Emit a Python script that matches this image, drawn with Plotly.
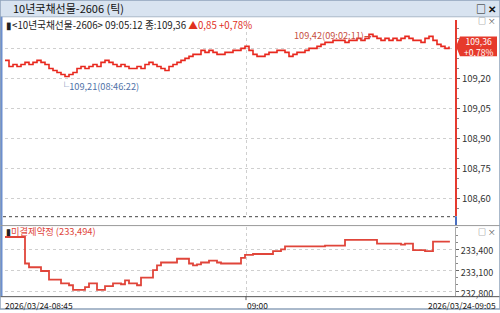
import plotly.graph_objects as go

# ---------------- data (tick chart: x = tick index) ----------------
prices = [
    109.29, 109.26, 109.27, 109.26, 109.27, 109.28, 109.27, 109.28, 109.29, 109.28,
    109.27, 109.25, 109.24, 109.23, 109.22, 109.21, 109.22, 109.23, 109.25, 109.26,
    109.25, 109.26, 109.27, 109.26, 109.28, 109.29, 109.28, 109.27, 109.26, 109.27,
    109.26, 109.25, 109.25, 109.26, 109.25, 109.27, 109.28, 109.27, 109.26, 109.25,
    109.24, 109.26, 109.27, 109.28, 109.29, 109.30, 109.31, 109.32, 109.32, 109.34,
    109.33, 109.34, 109.33, 109.32, 109.32, 109.33, 109.33, 109.34, 109.34, 109.35,
    109.36, 109.34, 109.32, 109.31, 109.31, 109.32, 109.33, 109.33, 109.34, 109.34,
    109.33, 109.31, 109.32, 109.33, 109.33, 109.34, 109.35, 109.35, 109.36, 109.37,
    109.38, 109.38, 109.39, 109.39, 109.39, 109.38, 109.39, 109.39, 109.40, 109.39,
    109.40, 109.42, 109.41, 109.40, 109.39, 109.40, 109.39, 109.40, 109.39, 109.40,
    109.41, 109.40, 109.39, 109.39, 109.38, 109.40, 109.41, 109.39, 109.37, 109.36,
    109.35, 109.36,
]
open_interest = [
    233573, 233573, 233573, 233573, 233573, 233200, 233147, 233147, 233147, 233094,
    233094, 232974, 232974, 232974, 232921, 232921, 232894, 232828, 232828, 232828,
    232868, 232921, 232921, 232828, 232828, 232881, 232881, 232921, 232921, 232908,
    232961, 232921, 232921, 232894, 233001, 233001, 233001, 233107, 233174, 233214,
    233214, 233214, 233214, 233267, 233267, 233267, 233200, 233174, 233187, 233214,
    233214, 233240, 233240, 233214, 233200, 233200, 233200, 233200, 233200, 233280,
    233320, 233320, 233334, 233334, 233334, 233334, 233334, 233373, 233373, 233400,
    233440, 233440, 233440, 233440, 233440, 233440, 233440, 233440, 233440, 233440,
    233453, 233453, 233453, 233453, 233453, 233533, 233533, 233533, 233533, 233533,
    233533, 233533, 233533, 233480, 233480, 233480, 233480, 233480, 233480, 233467,
    233480, 233480, 233387, 233387, 233387, 233373, 233373, 233507, 233507, 233507,
    233507, 233494,
]
ticks = list(range(len(prices)))
nine_oclock_tick = [60.25]
time_labels = ["2026/03/24-08:45", "09:00", "2026/03/24-09:05"]
min_time, max_time = "08:46:22", "09:02:11"
change_text = "▲0,85 +0,78%"
change_pct = "+0,78%"
price_tickvals = [108.60, 108.75, 108.90, 109.05, 109.20, 109.35]
price_ticktext = ["108,60", "108,75", "108,90", "109,05", "109,20", ""]
oi_tickvals = [232800, 233100, 233400]
oi_ticktext = ["232,800", "233,100", "233,400"]

W, H = 500, 313
def px(x): return x / W
def py(y): return 1 - y / H

FONT = "Noto Sans CJK KR, Noto Sans, sans-serif"
RED = "#e8281e"

y_range = [108.5126, 109.493]
y_px_top, y_px_bot = 20, 219
units_per_px = (y_range[1] - y_range[0]) / (y_px_bot - y_px_top)

fig = go.Figure()
fig.add_trace(go.Scatter(x=ticks, y=prices, mode="lines", xaxis="x", yaxis="y",
                         line=dict(color=RED, width=1.6, shape="hv"), hoverinfo="skip"))
fig.add_trace(go.Scatter(x=ticks, y=open_interest, mode="lines", xaxis="x2", yaxis="y2",
                         line=dict(color="#e0453a", width=1.8, shape="hv"), hoverinfo="skip"))

xr = [0, 112.5]
grid = dict(showgrid=True, gridcolor="#cfcfcf", griddash="dot", gridwidth=1, zeroline=False)
fig.update_layout(
    width=W, height=H, margin=dict(l=0, r=0, t=0, b=0),
    paper_bgcolor="white", plot_bgcolor="white", showlegend=False,
    font=dict(family=FONT, size=10, color="#333"),
    xaxis=dict(domain=[px(5), px(455)], range=xr, anchor="y", tickvals=nine_oclock_tick,
               showticklabels=False, ticks="", showline=False, **grid),
    yaxis=dict(domain=[py(y_px_bot), py(y_px_top)], range=y_range, anchor="x", side="right",
               tickvals=price_tickvals, ticktext=price_ticktext, ticks="outside", ticklen=3,
               tickcolor="#666", showline=True, linecolor="#e53a2f", linewidth=2,
               tickfont=dict(size=9.5, color="#333", family=FONT),
               minor=dict(ticks="outside", ticklen=2, tickcolor="#888", tick0=108.6, dtick=0.05),
               **grid),
    xaxis2=dict(domain=[px(5), px(455)], range=xr, anchor="y2", tickvals=nine_oclock_tick,
                showticklabels=False, ticks="", showline=False, **grid),
    yaxis2=dict(domain=[py(300), py(230)], range=[232740, 233713], anchor="x2", side="right",
                tickvals=oi_tickvals, ticktext=oi_ticktext, ticks="outside", ticklen=3,
                tickcolor="#666", showline=True, linecolor="#aaaaaa", linewidth=1,
                tickfont=dict(size=9, color="#333", family=FONT), ticklabelshift=2,
                minor=dict(ticks="outside", ticklen=2, tickcolor="#888", tick0=232800, dtick=100),
                **grid),
)

last = prices[-1]
box_half = 10 * units_per_px
P = dict(xref="paper", yref="paper")
shapes = [
    # title bar
    dict(type="rect", x0=0, x1=1, y0=py(17), y1=1, fillcolor="#d8e3f0", line=dict(width=0), **P),
    dict(type="line", x0=0, x1=1, y0=py(17), y1=py(17), line=dict(color="#a9b8c8", width=1), **P),
    # left blue strip
    dict(type="rect", x0=0, x1=px(2.5), y0=py(300), y1=py(17), fillcolor="#6d8fce", line=dict(width=0), **P),
    # dotted separator
    dict(type="line", x0=px(3), x1=px(455), y0=py(219.5), y1=py(219.5), line=dict(color="#444", width=1, dash="dot"), **P),
    # blue axis segment
    dict(type="line", x0=px(456), x1=px(456), y0=py(228), y1=py(219), line=dict(color="#4a6fc0", width=2), **P),
    # lower panel top border
    dict(type="line", x0=0, x1=1, y0=py(228.5), y1=py(228.5), line=dict(color="#9a9a9a", width=1), **P),
    # bottom axis line
    dict(type="line", x0=0, x1=1, y0=py(300.5), y1=py(300.5), line=dict(color="#555", width=1), **P),
    # 09:00 tick mark on bottom
    dict(type="line", x0=px(246), x1=px(246), y0=py(300), y1=py(304), line=dict(color="#555", width=1), **P),
    # outer frame
    dict(type="rect", x0=0, x1=1, y0=0, y1=1, line=dict(color="#8fa3ba", width=1.5), **P),
    # current price box with notch
    dict(type="path", xref="paper", yref="y",
         path=(f"M {px(456)},{last} L {px(460)},{last + box_half} L {px(497)},{last + box_half} "
               f"L {px(497)},{last - box_half} L {px(460)},{last - box_half} Z"),
         fillcolor="#e63a2c", line=dict(width=0)),
]
fig.update_layout(shapes=shapes)

fmt = lambda v: f"{v:.2f}".replace(".", ",")
i_min = min(range(len(prices)), key=lambda i: prices[i])
i_max = max(range(len(prices)), key=lambda i: prices[i])

ann = [
    dict(x=px(11), y=py(8.5), xref="paper", yref="paper", xanchor="left", yanchor="middle",
         text="10년국채선물-2606 (틱)", font=dict(size=11, color="#111")),
    dict(x=px(498), y=py(8.5), xref="paper", yref="paper", xanchor="right", yanchor="middle",
         text="<b>□ ✕</b>", font=dict(size=10, color="#111")),
    dict(x=px(4), y=py(25), xref="paper", yref="paper", xanchor="left", yanchor="middle",
         text="▮&lt;10년국채선물-2606&gt; 09:05:12 종:" + fmt(last) +
              " <span style='color:#e0301e'>" + change_text + "</span>",
         font=dict(size=9.7, color="#222")),
    dict(x=px(498), y=py(21), xref="paper", yref="paper", xanchor="right", yanchor="middle",
         text="□ ×", font=dict(size=8, color="#555")),
    dict(x=px(498), y=py(234), xref="paper", yref="paper", xanchor="right", yanchor="middle",
         text="□ ×", font=dict(size=8, color="#555")),
    dict(x=px(478.5), y=last, xref="paper", yref="y", xanchor="center", yanchor="middle",
         text=fmt(last) + "<br>" + change_pct, align="center", borderpad=0,
         font=dict(size=8.6, color="white")),
    dict(x=i_min, y=prices[i_min], xref="x", yref="y", xanchor="left", yanchor="top",
         xshift=-7, yshift=-1, text="└" + fmt(prices[i_min]) + "(" + min_time + ")",
         font=dict(size=9.2, color="#4f72a8")),
    dict(x=i_max, y=prices[i_max], xref="x", yref="y", xanchor="right", yanchor="middle",
         xshift=5, yshift=-1, text=fmt(prices[i_max]) + "(" + max_time + ")⇁",
         font=dict(size=9.2, color="#c8503f")),
    dict(x=px(4), y=py(234), xref="paper", yref="paper", xanchor="left", yanchor="middle",
         text="▮<span style='color:#e0453a'>미결제약정 (" + f"{open_interest[-1]:,}" + ")</span>",
         font=dict(size=9.3, color="#222")),
    dict(x=px(3), y=py(308.5), xref="paper", yref="paper", xanchor="left", yanchor="middle",
         text=time_labels[0], font=dict(size=8.4, color="#222")),
    dict(x=px(245), y=py(308.5), xref="paper", yref="paper", xanchor="left", yanchor="middle",
         text=time_labels[1], font=dict(size=8.4, color="#222")),
    dict(x=px(498), y=py(308.5), xref="paper", yref="paper", xanchor="right", yanchor="middle",
         text=time_labels[2], font=dict(size=8.4, color="#222")),
]
for a in ann:
    a.setdefault("showarrow", False)
fig.update_layout(annotations=ann)

fig.write_html("out.html")
